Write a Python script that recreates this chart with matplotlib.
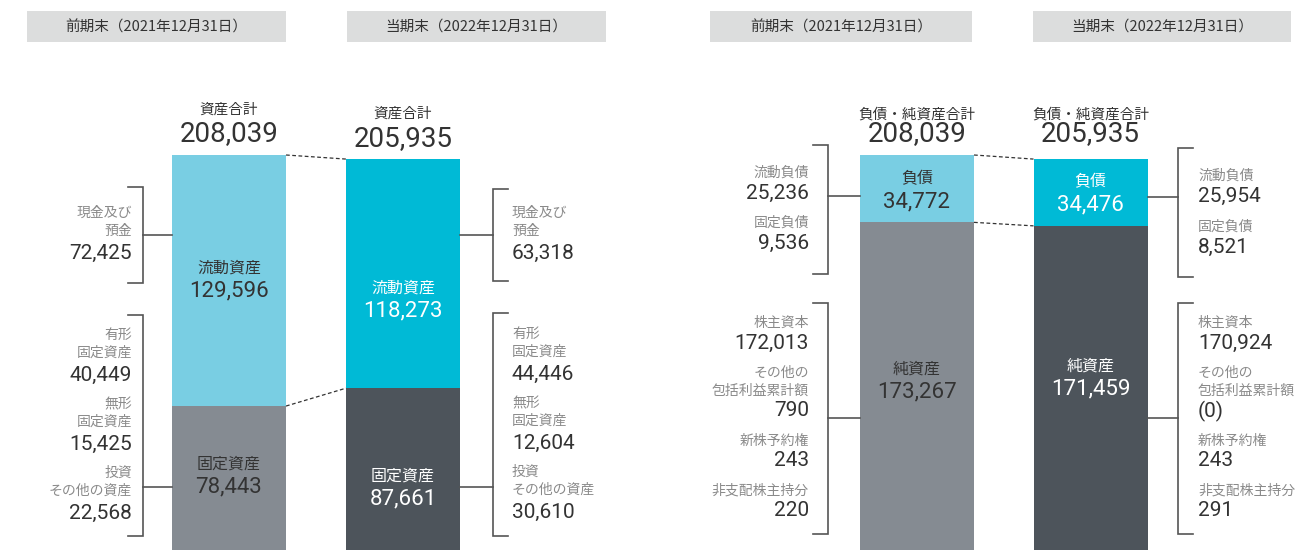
import matplotlib
matplotlib.use('Agg')
import matplotlib.pyplot as plt
from matplotlib.patches import Rectangle

plt.rcParams['font.family'] = ['Noto Sans CJK JP', 'DejaVu Sans']
NUM_FONT = ['Roboto', 'Noto Sans CJK JP', 'DejaVu Sans']

# --- data (百万円) ---
periods = ['前期末（2021年12月31日）', '当期末（2022年12月31日）']

total_assets = [208039, 205935]
current_assets = [129596, 118273]
fixed_assets = [78443, 87661]

total_liab_net = [208039, 205935]
liabilities = [34772, 34476]
net_assets = [173267, 171459]

cash_items = [
    [('現金及び\n預金', '72,425')],
    [('現金及び\n預金', '63,318')],
]
fixed_items = [
    [('有形\n固定資産', '40,449'), ('無形\n固定資産', '15,425'), ('投資\nその他の資産', '22,568')],
    [('有形\n固定資産', '44,446'), ('無形\n固定資産', '12,604'), ('投資\nその他の資産', '30,610')],
]
liab_items = [
    [('流動負債', '25,236'), ('固定負債', '9,536')],
    [('流動負債', '25,954'), ('固定負債', '8,521')],
]
equity_items = [
    [('株主資本', '172,013'), ('その他の\n包括利益累計額', '790'), ('新株予約権', '243'), ('非支配株主持分', '220')],
    [('株主資本', '170,924'), ('その他の\n包括利益累計額', '(0)'), ('新株予約権', '243'), ('非支配株主持分', '291')],
]

# --- layout ---
W, H = 1297, 550
BASE_PX = 558                 # baseline row of the bars, just below the frame
PX_PER_UNIT = 403 / 208039    # bar height scale
BAR_W = 114
asset_x = [229, 403]
liab_x = [917, 1090.5]

upper_colors = ['#79cee3', '#00bad6']
lower_colors = ['#858b92', '#4d545b']
inbar_text = ['#333333', '#ffffff']
GREY_TXT = '#8a8a8a'
DARK_TXT = '#333333'
LINE = '#555555'

fig = plt.figure(figsize=(W / 100, H / 100), dpi=100)
ax = fig.add_axes([0, 0, 1, 1])
ax.set_xlim(0, W)
ax.set_ylim((BASE_PX - H) / PX_PER_UNIT, BASE_PX / PX_PER_UNIT)
ax.axis('off')


def row(p):
    # pixel row (from top) -> y value
    return (BASE_PX - p) / PX_PER_UNIT


def to_px(v):
    return BASE_PX - v * PX_PER_UNIT


def num(x, p, s, size, color, ha='center'):
    ax.text(x, row(p), s, ha=ha, va='center', fontsize=size, color=color,
            family=NUM_FONT)


def header(x0, x1, label):
    ax.add_patch(Rectangle((x0, row(42)), x1 - x0, row(11) - row(42),
                           facecolor='#dcdddd', edgecolor='none'))
    ax.text((x0 + x1) / 2, row(27), label, ha='center', va='center',
            fontsize=10.5, color='#333333')


def bracket(x, p_top, p_bot, p_mid, tick, edge):
    ax.plot([x + tick, x, x, x + tick], [row(p_top), row(p_top), row(p_bot), row(p_bot)],
            color=LINE, lw=1.2, solid_joinstyle='miter')
    ax.plot([x, edge], [row(p_mid), row(p_mid)], color=LINE, lw=1.2)


def stack(x, p, items, ha, to_num, to_next):
    for label, value in items:
        lines = label.split('\n')
        for i, line in enumerate(lines):
            ax.text(x, row(p), line, ha=ha, va='center', fontsize=10, color=GREY_TXT)
            if i < len(lines) - 1:
                p += 18
        p += to_num
        num(x, p, value, 15, DARK_TXT, ha)
        p += to_next


def bar_label(x, p, name, value, color):
    ax.text(x, row(p - 11), name, ha='center', va='center', fontsize=11.5, color=color)
    num(x, p + 12, value, 16, color)


# headers
header(27, 286, periods[0])
header(347, 606, periods[1])
header(710, 972, periods[0])
header(1033, 1291, periods[1])

# 資産の部
for i in range(2):
    ax.bar(asset_x[i], fixed_assets[i], width=BAR_W, color=lower_colors[i], align='center')
    ax.bar(asset_x[i], current_assets[i], bottom=fixed_assets[i], width=BAR_W,
           color=upper_colors[i], align='center')
    top = to_px(total_assets[i])
    ax.text(asset_x[i], row(top - 45), '資産合計', ha='center', va='center',
            fontsize=10.5, color='#333333')
    num(asset_x[i], top - 21, f'{total_assets[i]:,}', 20, '#333333')

for i, (pc, pf) in enumerate([(279, 475), (299, 487)]):
    bar_label(asset_x[i], pc, '流動資産', f'{current_assets[i]:,}', inbar_text[i])
    bar_label(asset_x[i], pf, '固定資産', f'{fixed_assets[i]:,}', inbar_text[i])

x_r0 = asset_x[0] + BAR_W / 2
x_l1 = asset_x[1] - BAR_W / 2
ax.plot([x_r0, x_l1], total_assets, color='#333333', lw=0.9, ls=(0, (3, 2)))
ax.plot([x_r0, x_l1], fixed_assets, color='#333333', lw=0.9, ls=(0, (3, 2)))

bracket(143, 187, 283, 235, -15, asset_x[0] - BAR_W / 2)
bracket(143, 315, 536, 487, -15, asset_x[0] - BAR_W / 2)
bracket(493, 189, 281, 235, 15, asset_x[1] + BAR_W / 2)
bracket(493, 313, 536, 487, 15, asset_x[1] + BAR_W / 2)

stack(132, 213, cash_items[0], 'right', 22, 29)
stack(132, 335, fixed_items[0], 'right', 22, 29)
stack(512, 213, cash_items[1], 'left', 22, 29)
stack(512, 334, fixed_items[1], 'left', 22, 29)

# 負債・純資産の部
for i in range(2):
    ax.bar(liab_x[i], net_assets[i], width=BAR_W, color=lower_colors[i], align='center')
    ax.bar(liab_x[i], liabilities[i], bottom=net_assets[i], width=BAR_W,
           color=upper_colors[i], align='center')
    ax.text(liab_x[i], row(115), '負債・純資産合計', ha='center', va='center',
            fontsize=10.5, color='#333333')
    num(liab_x[i], 134, f'{total_liab_net[i]:,}', 20, '#333333')

for i, (pl, pn) in enumerate([(190, 380), (193, 377)]):
    bar_label(liab_x[i], pl, '負債', f'{liabilities[i]:,}', inbar_text[i])
    bar_label(liab_x[i], pn, '純資産', f'{net_assets[i]:,}', inbar_text[i])

x_r0 = liab_x[0] + BAR_W / 2
x_l1 = liab_x[1] - BAR_W / 2
ax.plot([x_r0, x_l1], total_liab_net, color='#333333', lw=0.9, ls=(0, (3, 2)))
ax.plot([x_r0, x_l1], net_assets, color='#333333', lw=0.9, ls=(0, (3, 2)))

bracket(828, 145, 274, 196, -15, liab_x[0] - BAR_W / 2)
bracket(828, 303, 534, 418, -15, liab_x[0] - BAR_W / 2)
bracket(1178, 148, 277, 197, 15, liab_x[1] + BAR_W / 2)
bracket(1178, 303, 534, 418, 15, liab_x[1] + BAR_W / 2)

stack(809, 173, liab_items[0], 'right', 20, 30)
stack(809, 323, equity_items[0], 'right', 20, 30)
stack(1198, 176, liab_items[1], 'left', 20, 31)
stack(1198, 323, equity_items[1], 'left', 20, 30)

fig.savefig('out.png', dpi=100)
